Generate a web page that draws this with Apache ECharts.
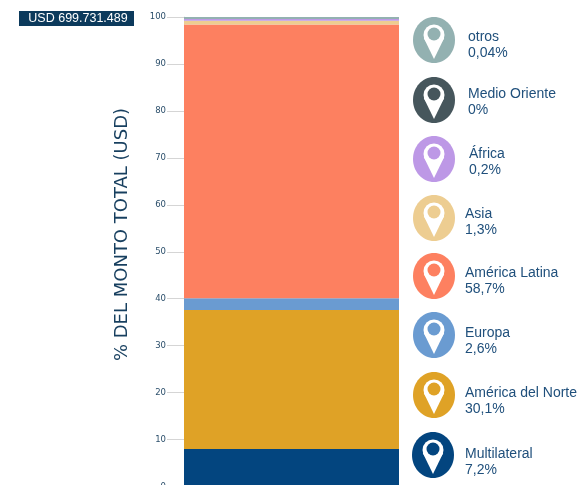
<!DOCTYPE html>
<html><head><meta charset="utf-8">
<style>html,body{margin:0;padding:0;background:#fff}#c{width:577px;height:485px}</style>
<script src="https://cdn.jsdelivr.net/npm/echarts@6/dist/echarts.min.js"></script></head>
<body><div id="c"></div>
<script>
const badgeText = 'USD 699.731.489';
const axisTitle = '% DEL MONTO TOTAL (USD)';
const regions = ['Multilateral','América del Norte','Europa','América Latina','Asia','África','Medio Oriente','otros'];
const barValues = [8.0, 29.6, 2.5, 58.3, 0.8, 0.4, 0, 0.4];
const shownLabels = ['7,2%','30,1%','2,6%','58,7%','1,3%','0,2%','0%','0,04%'];
const colors = ['#03457f','#dfa226','#6a9bd1','#fd8060','#edcd91','#bd98e6','#46565c','#93b1b1'];
const pinY = [455,395,335,276,218,159,100,40];
const textX = [465,465,465,465,465,469,468,468];
const textY = [454,393,333,273,214,154,94,37];
const graphics = [
 {type:'rect',shape:{x:19,y:11,width:115,height:15},style:{fill:'#0c3a5c'}},
 {type:'text',x:78,y:18.5,style:{text:badgeText,fill:'#fff',font:'12.5px "Liberation Sans"',align:'center',verticalAlign:'middle'}},
 {type:'text',x:122,y:234.5,rotation:Math.PI/2,style:{text:axisTitle,fill:'#173f5f',font:'18px "DejaVu Sans"',align:'center',verticalAlign:'middle'}}
];
regions.forEach((r,i)=>{
 const cx = i===0?433:434, cy = pinY[i];
 graphics.push(
  {type:'ellipse',shape:{cx:cx,cy:cy,rx:21,ry:23},style:{fill:colors[i]}},
  {type:'circle',shape:{cx:cx,cy:cy-5,r:10.5},style:{fill:'#fff'}},
  {type:'polygon',shape:{points:[[cx-10.2,cy-2],[cx+10.2,cy-2],[cx,cy+19]]},style:{fill:'#fff'}},
  {type:'circle',shape:{cx:cx,cy:cy-6,r:6.5},style:{fill:colors[i]}},
  {type:'text',x:textX[i],y:textY[i],style:{text:r,fill:'#20507c',font:'14px "Liberation Sans"',verticalAlign:'middle'}},
  {type:'text',x:textX[i],y:textY[i]+16,style:{text:shownLabels[i],fill:'#20507c',font:'14px "Liberation Sans"',verticalAlign:'middle'}}
 );
});
const chart = echarts.init(document.getElementById('c'),null,{renderer:'canvas'});
chart.setOption({
 animation:false,
 grid:{left:184,top:17,width:215,height:469.5,outerBoundsMode:'none'},
 xAxis:{type:'category',data:['Total'],axisLine:{show:false},axisTick:{show:false},axisLabel:{show:false}},
 yAxis:{type:'value',min:0,max:100,interval:10,
  axisLine:{show:true,lineStyle:{color:'#dde3e8',width:1}},
  axisTick:{show:true,length:17,lineStyle:{color:'#d5d5d5',width:1}},
  axisLabel:{color:'#2c4f6b',fontSize:8.5,fontFamily:'DejaVu Sans',margin:18},
  splitLine:{show:false}},
 series:regions.map((r,i)=>({name:r,type:'bar',stack:'t',barWidth:'100%',data:[barValues[i]],itemStyle:{color:colors[i]}})),
 graphic:graphics
});
</script></body></html>
